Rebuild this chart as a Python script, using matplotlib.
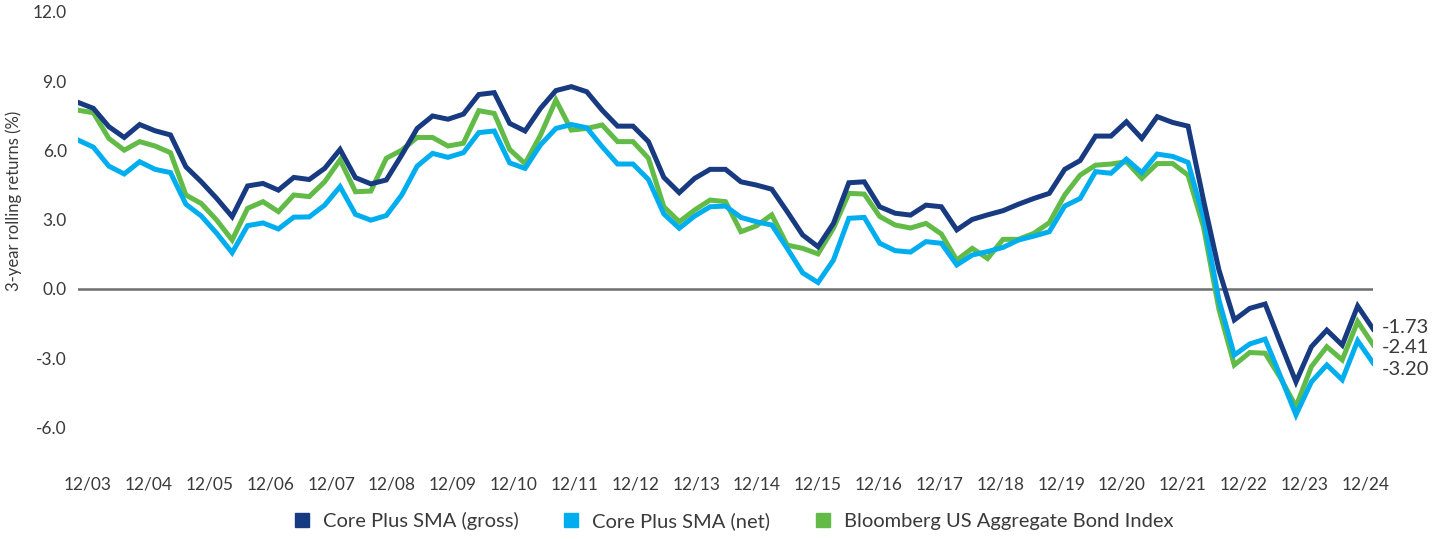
import matplotlib.pyplot as plt
from matplotlib.lines import Line2D

plt.rcParams['font.family'] = ['Lato', 'DejaVu Sans']

# quarterly, 12/03 .. 12/24
tick_labels = ['12/03', '12/04', '12/05', '12/06', '12/07', '12/08', '12/09',
               '12/10', '12/11', '12/12', '12/13', '12/14', '12/15', '12/16',
               '12/17', '12/18', '12/19', '12/20', '12/21', '12/22', '12/23',
               '12/24']

gross = [8.08, 7.82, 7.03, 6.56, 7.12, 6.85, 6.67, 5.29, 4.64, 3.92,
         3.13, 4.46, 4.57, 4.28, 4.83, 4.74, 5.22, 6.04, 4.82, 4.55,
         4.72, 5.80, 6.95, 7.49, 7.35, 7.57, 8.42, 8.50, 7.17, 6.84,
         7.82, 8.59, 8.76, 8.54, 7.74, 7.05, 7.05, 6.38, 4.83, 4.17,
         4.79, 5.18, 5.18, 4.64, 4.50, 4.32, 3.35, 2.34, 1.83, 2.84,
         4.60, 4.64, 3.56, 3.28, 3.20, 3.63, 3.56, 2.56, 3.01, 3.21,
         3.39, 3.67, 3.92, 4.14, 5.18, 5.56, 6.62, 6.62, 7.24, 6.52,
         7.46, 7.21, 7.05, 3.85, 0.83, -1.34, -0.84, -0.65, -2.35, -4.02,
         -2.50, -1.78, -2.43, -0.74, -1.73]

net = [6.45, 6.14, 5.32, 4.98, 5.51, 5.18, 5.04, 3.67, 3.16, 2.41,
       1.57, 2.74, 2.86, 2.60, 3.11, 3.12, 3.63, 4.43, 3.23, 2.98,
       3.18, 4.07, 5.32, 5.87, 5.70, 5.90, 6.77, 6.84, 5.46, 5.22,
       6.24, 6.95, 7.12, 6.98, 6.16, 5.41, 5.41, 4.74, 3.25, 2.63,
       3.16, 3.56, 3.59, 3.10, 2.91, 2.77, 1.76, 0.70, 0.28, 1.25,
       3.06, 3.10, 1.98, 1.66, 1.60, 2.05, 1.98, 1.04, 1.47, 1.62,
       1.80, 2.12, 2.29, 2.48, 3.59, 3.92, 5.08, 5.01, 5.62, 5.04,
       5.84, 5.74, 5.48, 3.09, -0.47, -2.86, -2.38, -2.17, -3.79, -5.45,
       -4.02, -3.29, -3.93, -2.24, -3.20]

agg = [7.74, 7.63, 6.52, 6.01, 6.38, 6.19, 5.90, 4.07, 3.70, 2.98,
       2.12, 3.49, 3.78, 3.35, 4.07, 4.00, 4.64, 5.59, 4.21, 4.24,
       5.66, 6.01, 6.56, 6.56, 6.19, 6.31, 7.72, 7.60, 6.04, 5.43,
       6.66, 8.18, 6.88, 6.95, 7.10, 6.38, 6.38, 5.66, 3.56, 2.91,
       3.42, 3.85, 3.78, 2.48, 2.73, 3.21, 1.90, 1.76, 1.52, 2.63,
       4.14, 4.11, 3.14, 2.77, 2.64, 2.84, 2.38, 1.25, 1.76, 1.32,
       2.15, 2.15, 2.41, 2.87, 4.07, 4.93, 5.36, 5.41, 5.51, 4.79,
       5.43, 5.43, 4.93, 2.69, -0.87, -3.29, -2.75, -2.78, -3.86, -5.09,
       -3.36, -2.50, -3.07, -1.41, -2.41]

series_names = ['Core Plus SMA (gross)', 'Core Plus SMA (net)',
                'Bloomberg US Aggregate Bond Index']
colors = ['#173a80', '#00aeef', '#62bb46']
text_color = '#3a3a3a'
y_ticks = [-6, -3, 0, 3, 6, 9, 12]

x = list(range(len(gross)))

fig = plt.figure(figsize=(14.49, 5.39), dpi=100)
ax = fig.add_axes([0.0538, 0.2067, 0.8938, 0.7714])

ax.axhline(0, color='#6d6e71', lw=1.8, zorder=1)
ax.plot(x, gross, color=colors[0], lw=3.6, zorder=3, solid_joinstyle='miter')
ax.plot(x, agg, color=colors[2], lw=3.6, zorder=2, solid_joinstyle='miter')
ax.plot(x, net, color=colors[1], lw=3.6, zorder=2.5, solid_joinstyle='miter')

# end labels
ends = [(gross[-1], 1), (agg[-1], -2), (net[-1], -4.5)]
for v, dy in ends:
    ax.annotate('%.2f' % v, (x[-1], v), xytext=(6, dy),
                textcoords='offset points', va='center', ha='left',
                fontsize=14.5, color=text_color, annotation_clip=False)

ax.set_xlim(0, len(x) - 1)
ax.set_ylim(-6, 12)
ax.set_yticks(y_ticks)
ax.set_yticklabels(['%.1f' % v for v in y_ticks])
# category labels sit a little off the yearly points, as in the original
ax.set_xticks([0.65 + 3.945 * k for k in range(len(tick_labels))])
ax.set_xticklabels(tick_labels)

for s in ax.spines.values():
    s.set_visible(False)
ax.tick_params(axis='both', length=0, labelsize=12.5, colors=text_color)
ax.tick_params(axis='x', pad=35)
ax.tick_params(axis='y', pad=8)
ax.set_ylabel('3-year rolling returns (%)', fontsize=12, color=text_color)
ax.yaxis.set_label_coords(-0.043, 0.546)

handles = [Line2D([], [], marker='s', linestyle='none', markersize=9.5,
                  markerfacecolor=c, markeredgecolor=c) for c in colors]
fig.legend(handles, series_names, loc='center', bbox_to_anchor=(0.502, 0.034),
           ncol=3, frameon=False, fontsize=14.5, handletextpad=0.05,
           columnspacing=1.6, labelcolor=text_color)

plt.savefig('out.png', dpi=100)
